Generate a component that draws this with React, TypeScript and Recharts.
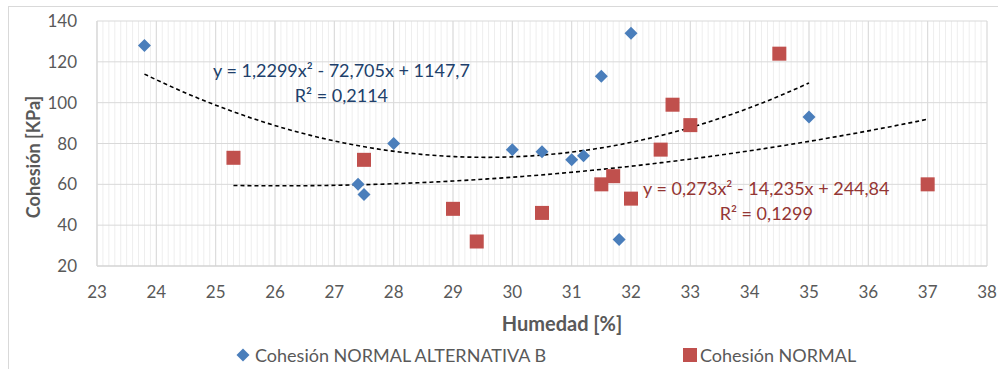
import React from 'react'
import {
  ScatterChart,
  Scatter,
  XAxis,
  YAxis,
  CartesianGrid,
  ReferenceDot,
} from 'recharts'

// Cohesión NORMAL ALTERNATIVA B
const humedadB = [23.8, 27.4, 27.5, 28, 30, 30.5, 31, 31.2, 31.5, 32, 31.8, 35]
const cohesionB = [128, 60, 55, 80, 77, 76, 72, 74, 113, 134, 33, 93]

// Cohesión NORMAL
const humedadN = [25.3, 27.5, 29, 29.4, 30.5, 31.5, 31.7, 32, 32.5, 32.7, 33, 34.5, 37]
const cohesionN = [73, 72, 48, 32, 46, 60, 64, 53, 77, 99, 89, 124, 60]

// polynomial trendlines as printed on the chart (a, b, c) and their x range
const coefB = [1.2299, -72.705, 1147.7]
const rangeB = [23.8, 35]
const coefN = [0.273, -14.235, 244.84]
const rangeN = [25.3, 37]

const xTicks = [23, 24, 25, 26, 27, 28, 29, 30, 31, 32, 33, 34, 35, 36, 37, 38]
const yTicks = [20, 40, 60, 80, 100, 120, 140]

const eqB = ['y = 1,2299x² - 72,705x + 1147,7', 'R² = 0,2114']
const eqN = ['y = 0,273x² - 14,235x + 244,84', 'R² = 0,1299']

const FONT = 'Lato, "Open Sans", sans-serif'
const GREY = '#595959'
const BLUE = '#4A7EBB'
const RED = '#C0504D'

const pointsB = humedadB.map((x, i) => ({ x, y: cohesionB[i] }))
const pointsN = humedadN.map((x, i) => ({ x, y: cohesionN[i] }))

function trend(coef: number[], range: number[]) {
  const pts = []
  const steps = 60
  for (let i = 0; i <= steps; i++) {
    const x = range[0] + ((range[1] - range[0]) * i) / steps
    pts.push({ x, y: coef[0] * x * x + coef[1] * x + coef[2] })
  }
  return pts
}

const trendB = trend(coefB, rangeB)
const trendN = trend(coefN, rangeN)

// minor vertical grid every 0.1
const minorX: number[] = []
for (let i = 0; i <= 150; i++) minorX.push(23 + i / 10)

const Diamond = (p: any) => {
  const { cx, cy } = p
  const r = 6.5
  return <path d={`M${cx},${cy - r}L${cx + r},${cy}L${cx},${cy + r}L${cx - r},${cy}Z`} fill={BLUE} />
}

const Square = (p: any) => {
  const { cx, cy } = p
  const s = 14
  return <rect x={cx - s / 2} y={cy - s / 2} width={s} height={s} fill={RED} />
}

const eqText = (lines: string[], color: string) => (p: any) => (
  <text x={p.cx} y={p.cy} textAnchor="middle" fill={color} fontFamily={FONT} fontSize={18}>
    <tspan x={p.cx} dy="0.35em">{lines[0]}</tspan>
    <tspan x={p.cx} dy="25">{lines[1]}</tspan>
  </text>
)

export default function App() {
  return (
    <div style={{ position: 'absolute', left: 0, top: 0, width: 998, height: 369, background: '#fff' }}>
      <div
        style={{
          position: 'absolute',
          left: 8,
          top: 6,
          width: 990,
          height: 363,
          borderTop: '1px solid #d9d9d9',
          borderLeft: '1px solid #d9d9d9',
        }}
      />
      <div style={{ position: 'absolute', left: 0, top: 0 }}>
        <ScatterChart width={998} height={369} margin={{ top: 21, right: 11, left: 37, bottom: 43 }}>
          <CartesianGrid
            horizontal={false}
            verticalValues={minorX}
            stroke="#eeeeee"
            strokeWidth={1}
          />
          <CartesianGrid
            horizontalValues={yTicks}
            verticalValues={xTicks}
            stroke="#d9d9d9"
            strokeWidth={1}
          />
          <XAxis
            type="number"
            dataKey="x"
            domain={[23, 38]}
            ticks={xTicks}
            interval={0}
            height={60}
            tickSize={0}
            tickMargin={20}
            axisLine={{ stroke: '#d0d0d0' }}
            tick={{ fill: GREY, fontSize: 17, fontFamily: FONT }}
            label={{
              content: () => (
                <text
                  x={562}
                  y={323}
                  textAnchor="middle"
                  dominantBaseline="central"
                  fill={GREY}
                  fontFamily={FONT}
                  fontWeight="bold"
                  fontSize={20}
                >
                  Humedad [%]
                </text>
              ),
            }}
          />
          <YAxis
            type="number"
            dataKey="y"
            domain={[20, 140]}
            ticks={yTicks}
            interval={0}
            width={60}
            tickSize={0}
            tickMargin={20}
            axisLine={{ stroke: '#d9d9d9' }}
            tick={{ fill: GREY, fontSize: 17, fontFamily: FONT }}
            label={{
              content: () => (
                <text
                  x={33}
                  y={157}
                  transform="rotate(-90 33 157)"
                  textAnchor="middle"
                  dominantBaseline="central"
                  fill={GREY}
                  fontFamily={FONT}
                  fontWeight="bold"
                  fontSize={18}
                >
                  Cohesión [KPa]
                </text>
              ),
            }}
          />
          <Scatter
            data={trendB}
            line={{ stroke: '#000', strokeWidth: 1.6, strokeDasharray: '4 3' }}
            lineType="joint"
            shape={() => <g />}
            isAnimationActive={false}
          />
          <Scatter
            data={trendN}
            line={{ stroke: '#000', strokeWidth: 1.6, strokeDasharray: '4 3' }}
            lineType="joint"
            shape={() => <g />}
            isAnimationActive={false}
          />
          <Scatter name="Cohesión NORMAL ALTERNATIVA B" data={pointsB} shape={Diamond} isAnimationActive={false} />
          <Scatter name="Cohesión NORMAL" data={pointsN} shape={Square} isAnimationActive={false} />
          <ReferenceDot x={27.12} y={115.5} r={0} shape={eqText(eqB, '#203F6B')} />
          <ReferenceDot x={34.28} y={58} r={0} shape={eqText(eqN, '#943634')} />
        </ScatterChart>
      </div>
      <div
        style={{
          position: 'absolute',
          left: 0,
          top: 343,
          width: 998,
          height: 24,
          fontFamily: FONT,
          fontSize: 18,
          color: GREY,
        }}
      >
        <div style={{ position: 'absolute', left: 236, top: 0, display: 'flex', alignItems: 'center', height: 24 }}>
          <svg width={14} height={14} style={{ marginRight: 5 }}>
            <path d="M7,0.5L13.5,7L7,13.5L0.5,7Z" fill={BLUE} />
          </svg>
          <span>Cohesión NORMAL ALTERNATIVA B</span>
        </div>
        <div style={{ position: 'absolute', left: 683, top: 0, display: 'flex', alignItems: 'center', height: 24 }}>
          <svg width={14} height={14} style={{ marginRight: 3 }}>
            <rect x={0} y={0} width={14} height={14} fill={RED} />
          </svg>
          <span>Cohesión NORMAL</span>
        </div>
      </div>
    </div>
  )
}
